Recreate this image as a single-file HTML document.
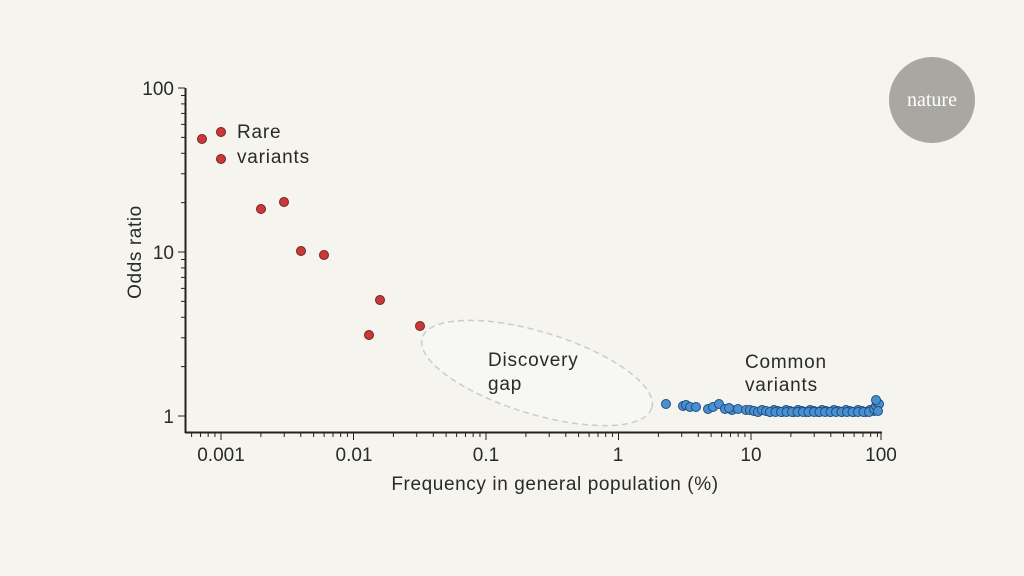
<!DOCTYPE html>
<html><head><meta charset="utf-8"><style>
body{margin:0;background:#f5f4ee;}
svg{display:block;font-family:"Liberation Sans",sans-serif;}
</style></head><body>
<svg id="s" width="1024" height="576" viewBox="0 0 1024 576">
<rect width="1024" height="576" fill="#f5f4ee"/>
<circle cx="932" cy="100" r="43" fill="#a8a7a2"/>
<text x="932" y="106" text-anchor="middle" font-family="Liberation Serif,serif" font-size="20" fill="#fff">nature</text>
<ellipse cx="537" cy="373" rx="120" ry="41" transform="rotate(17 537 373)" fill="#f7f7f3" stroke="#c9cbd6" stroke-width="1.5" stroke-dasharray="6,4"/>
<g id="ax" stroke="#222" fill="none"></g>
<line x1="185.5" y1="88" x2="185.5" y2="433" stroke="#222" stroke-width="2"/>
<line x1="185" y1="432.5" x2="882" y2="432.5" stroke="#222" stroke-width="2"/>
<g font-size="19" fill="#2a2a2a" text-anchor="end">
<text x="174" y="95">100</text><text x="174" y="259">10</text><text x="174" y="423">1</text>
</g>
<g font-size="19" fill="#2a2a2a" text-anchor="middle">
<text x="221" y="461">0.001</text><text x="354" y="461">0.01</text><text x="486" y="461">0.1</text>
<text x="618" y="461">1</text><text x="751" y="461">10</text><text x="881" y="461">100</text>
<text x="555" y="490" letter-spacing="0.6">Frequency in general population (%)</text>
<text transform="translate(141 252) rotate(-90)" letter-spacing="0.6">Odds ratio</text>
</g>
<g font-size="19" fill="#2a2a2a" letter-spacing="0.8">
<text x="237" y="138">Rare</text><text x="237" y="163">variants</text>
<text x="488" y="366">Discovery</text><text x="488" y="390">gap</text>
<text x="745" y="368">Common</text><text x="745" y="391">variants</text>
</g>
<g id="blue" fill="#4a90d0" stroke="#1d4e82" stroke-width="1"></g>
<g fill="#c83a3a" stroke="#7a1f1f" stroke-width="1">
<circle cx="202" cy="139" r="4.5"/><circle cx="221" cy="132" r="4.5"/><circle cx="221" cy="159" r="4.5"/>
<circle cx="261" cy="209" r="4.5"/><circle cx="284" cy="202" r="4.5"/><circle cx="301" cy="251" r="4.5"/>
<circle cx="324" cy="255" r="4.5"/><circle cx="380" cy="300" r="4.5"/><circle cx="369" cy="335" r="4.5"/>
<circle cx="420" cy="326" r="4.5"/>
</g>
</svg>
<script>
var ns="http://www.w3.org/2000/svg",ax=document.getElementById("ax");
function L(a,b,c,d){var l=document.createElementNS(ns,"line");l.setAttribute("x1",a);l.setAttribute("y1",b);l.setAttribute("x2",c);l.setAttribute("y2",d);ax.appendChild(l);}
var X=function(v){return 221+132.5*(Math.log10(v)+3);},Y=function(v){return 416-164*Math.log10(v);};
for(var e=-4;e<=1;e++)for(var m=1;m<10;m++){var v=m*Math.pow(10,e),x=X(v);if(x<186||x>882)continue;L(x,433,x,m==1?440:437);}
L(881,433,881,440);
for(var e=0;e<2;e++)for(var m=1;m<10;m++){var y=Y(m*Math.pow(10,e));L(185,y,m==1?178:181,y);}
L(185,88,178,88);
var b=document.getElementById("blue");
function C(x,y){var c=document.createElementNS(ns,"circle");c.setAttribute("cx",x);c.setAttribute("cy",y);c.setAttribute("r",4.5);b.appendChild(c);}
var pts=[[666,404],[683,406],[686,405],[690,407],[696,407],[708,409],[713,407],[719,404],[725,409],[732,410],[729,408],[738,409],[746,410]];
pts.forEach(function(p){C(p[0],p[1]);});
for(var x=750;x<875;x+=4){C(x,410+((x*7)%3));}
for(var x=770;x<872;x+=5.5){C(x,412);}
C(874,409);C(876,406);C(877,402);C(879,404);C(876,400);C(878,411);
</script>
</body></html>
